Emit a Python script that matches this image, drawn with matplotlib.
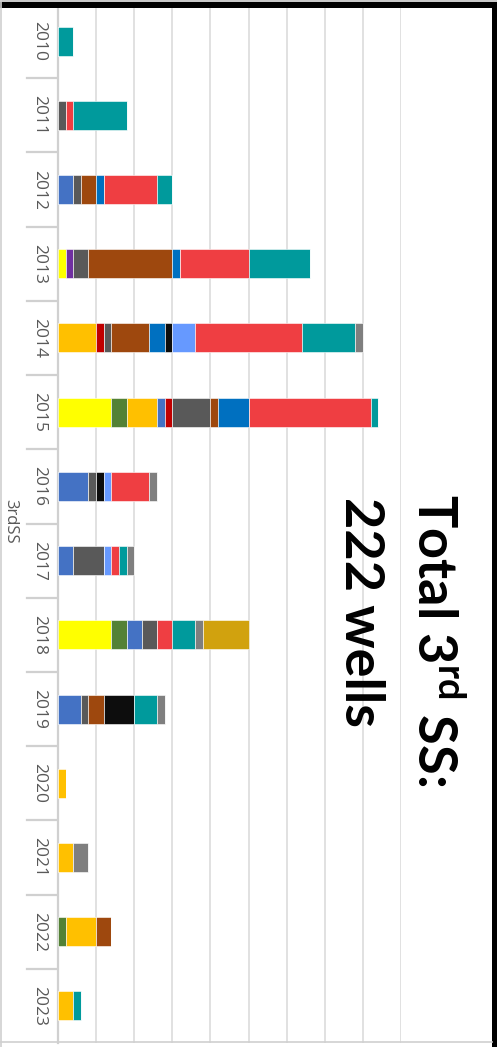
import matplotlib
matplotlib.use("Agg")
import matplotlib.pyplot as plt
from matplotlib.patches import Rectangle
from matplotlib.lines import Line2D
from matplotlib.transforms import blended_transform_factory

# Wells per year, one list per stacked series (bottom of stack first)
years = [2010, 2011, 2012, 2013, 2014, 2015, 2016, 2017, 2018, 2019, 2020, 2021, 2022, 2023]
s_yellow    = [0, 0, 0, 1, 0, 7, 0, 0, 7, 0, 0, 0, 0, 0]
s_green     = [0, 0, 0, 0, 0, 2, 0, 0, 2, 0, 0, 0, 1, 0]
s_amber     = [0, 0, 0, 0, 5, 4, 0, 0, 0, 0, 1, 2, 4, 2]
s_blue      = [0, 0, 2, 0, 0, 1, 4, 2, 2, 3, 0, 0, 0, 0]
s_darkred   = [0, 0, 0, 0, 1, 1, 0, 0, 0, 0, 0, 0, 0, 0]
s_purple    = [0, 0, 0, 1, 0, 0, 0, 0, 0, 0, 0, 0, 0, 0]
s_darkgray  = [0, 1, 1, 2, 1, 5, 1, 4, 2, 1, 0, 0, 0, 0]
s_brown     = [0, 0, 2, 11, 5, 1, 0, 0, 0, 2, 0, 0, 2, 0]
s_darkblue  = [0, 0, 1, 1, 2, 4, 0, 0, 0, 0, 0, 0, 0, 0]
s_black     = [0, 0, 0, 0, 1, 0, 1, 0, 0, 4, 0, 0, 0, 0]
s_lightblue = [0, 0, 0, 0, 3, 0, 1, 1, 0, 0, 0, 0, 0, 0]
s_red       = [0, 1, 7, 9, 14, 16, 5, 1, 2, 0, 0, 0, 0, 0]
s_teal      = [2, 7, 2, 8, 7, 1, 0, 1, 3, 3, 0, 0, 0, 1]
s_gray      = [0, 0, 0, 0, 1, 0, 1, 1, 1, 1, 0, 2, 0, 0]
s_darkgold  = [0, 0, 0, 0, 0, 0, 0, 0, 6, 0, 0, 0, 0, 0]

series = [
    (s_yellow, "#FFFF00"), (s_green, "#538135"), (s_amber, "#FFC000"),
    (s_blue, "#4472C4"), (s_darkred, "#C00000"), (s_purple, "#7030A0"),
    (s_darkgray, "#595959"), (s_brown, "#9E480E"), (s_darkblue, "#0070C0"),
    (s_black, "#0D0D0D"), (s_lightblue, "#6699FF"), (s_red, "#EF3E42"),
    (s_teal, "#009A9C"), (s_gray, "#7F7F7F"), (s_darkgold, "#D1A20E"),
]
axis_title = "3rdSS"
headline = r"Total 3$^{\mathrm{rd}}$ SS:"
subline = "222 wells"

W, H = 497, 1047
fig = plt.figure(figsize=(W / 100, H / 100), dpi=100)
fig.patch.set_facecolor("white")
plt.rcParams["mathtext.fontset"] = "custom"
plt.rcParams["mathtext.rm"] = "Lato:bold"


def fx(px):
    return px / W


def fy(py):
    return 1 - py / H


# plot area: value axis 0..45 runs left to right, years run top to bottom
ax = fig.add_axes([fx(58), fy(1043), fx(401) - fx(58), fy(4) - fy(1043)])
ax.set_xlim(0, 45)
ax.set_ylim(len(years) - 0.5, -0.5)
ax.set_facecolor("none")

ypos = list(range(len(years)))
left = [0] * len(years)
for vals, col in series:
    ax.barh(ypos, vals, left=left, height=0.39, color=col,
            edgecolor="white", linewidth=0.4, zorder=3)
    left = [a + b for a, b in zip(left, vals)]

ax.set_xticks(range(5, 46, 5))
ax.grid(axis="x", color="#D9D9D9", linewidth=1.1, zorder=0)
ax.tick_params(left=False, bottom=False, labelleft=False, labelbottom=False)
for s in ["top", "right", "bottom"]:
    ax.spines[s].set_visible(False)
ax.spines["left"].set_color("#D0D0D0")
ax.spines["left"].set_linewidth(1.6)

# year labels and category separators
tr = blended_transform_factory(fig.transFigure, ax.transData)
for i, yr in enumerate(years):
    ax.text(fx(35), i, str(yr), transform=tr, rotation=-90,
            rotation_mode="anchor", ha="center", va="baseline",
            fontsize=12.5, color="#595959", family="Open Sans")
for i in range(len(years) - 1):
    ax.add_line(Line2D([fx(27), fx(57)], [i + 0.5, i + 0.5], transform=tr,
                       color="#D0D0D0", linewidth=1.6, clip_on=False))

# axis title
fig.text(fx(6), fy(499), axis_title, rotation=-90, rotation_mode="anchor",
         ha="left", va="baseline", fontsize=12, color="#595959",
         family="Open Sans")

# headline text
fig.text(fx(417), fy(494), headline, rotation=-90, rotation_mode="anchor",
         ha="left", va="baseline", fontsize=39, color="black",
         family="Lato", fontweight="bold")
fig.text(fx(345), fy(497), subline, rotation=-90, rotation_mode="anchor",
         ha="left", va="baseline", fontsize=39, color="black",
         family="Lato", fontweight="bold")

# outer frame lines
fig.add_artist(Line2D([0, fx(492)], [fy(1042), fy(1042)], transform=fig.transFigure,
                      color="#D0D0D0", linewidth=1.2))
fig.add_artist(Line2D([fx(0.5), fx(0.5)], [0, 1], transform=fig.transFigure,
                      color="#D0D0D0", linewidth=1.2))
fig.add_artist(Rectangle((0, fy(7.5)), 1, fy(2) - fy(7.5), transform=fig.transFigure,
                         facecolor="black", edgecolor="none"))
fig.add_artist(Rectangle((fx(491.5), 0), 1 - fx(491.5), fy(2), transform=fig.transFigure,
                         facecolor="black", edgecolor="none"))
fig.add_artist(Rectangle((0, fy(2)), 1, 1 - fy(2), transform=fig.transFigure,
                         facecolor="#C8C8C8", edgecolor="none"))

fig.savefig("out.png", dpi=100)
